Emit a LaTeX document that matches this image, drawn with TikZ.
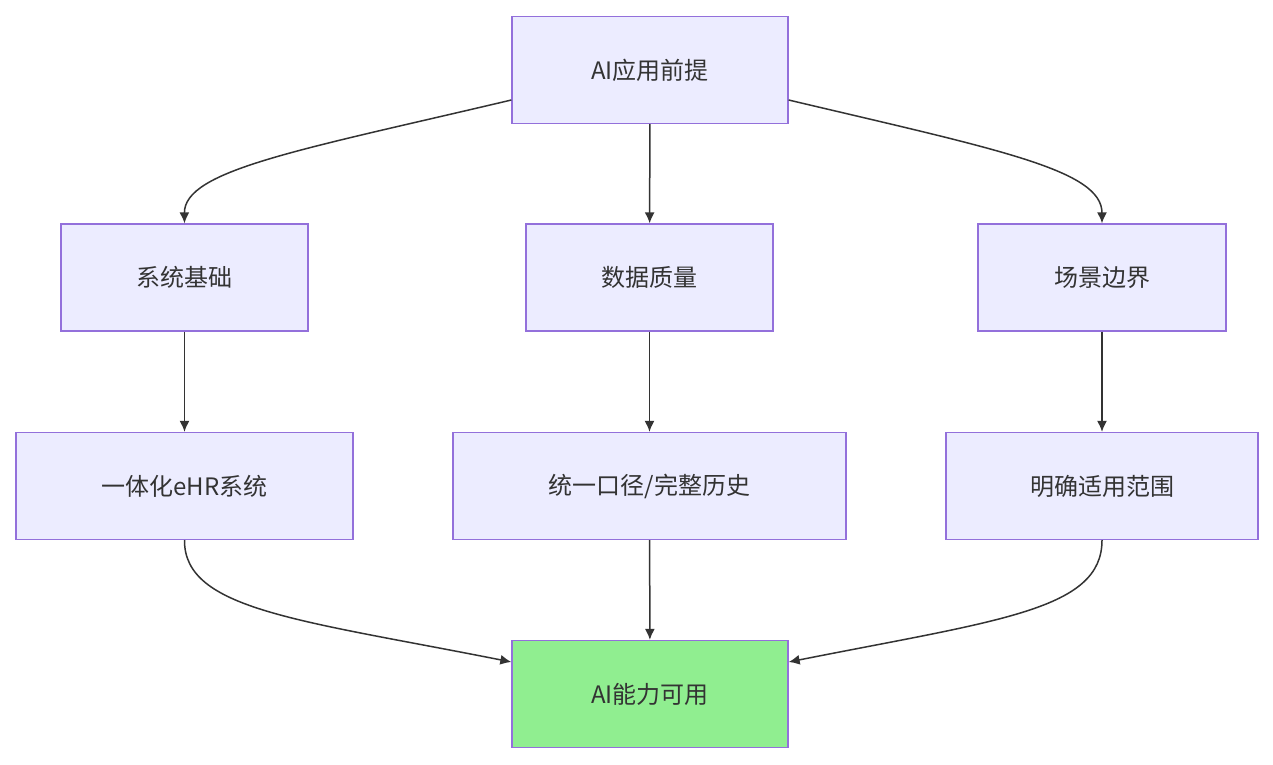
\documentclass[tikz,border=0pt]{standalone}
\usepackage{fontspec}
\setmainfont{Noto Sans CJK SC}
\usetikzlibrary{arrows.meta}
\definecolor{nf}{HTML}{ECECFF}
\definecolor{ns}{HTML}{9370DB}
\definecolor{tx}{HTML}{333333}
\definecolor{gf}{HTML}{90EE90}
\begin{document}
\begin{tikzpicture}[x=1pt,y=-1pt,
  box/.style={draw=ns,fill=nf,line width=1.3pt,text=tx,font=\fontsize{24}{28}\selectfont,minimum height=107pt,inner sep=0pt},
  ar/.style={draw=tx,line width=1.5pt,-{Latex[length=11pt,width=10pt]}}]
\useasboundingbox (0,0) rectangle (1273,764);
\node[box,minimum width=276pt] (top) at (650,70) {AI应用前提};
\node[box,minimum width=247pt] (a1) at (184.5,277.5) {系统基础};
\node[box,minimum width=247pt] (b1) at (649.5,277.5) {数据质量};
\node[box,minimum width=248pt] (c1) at (1102,277.5) {场景边界};
\node[box,minimum width=337pt] (a2) at (184.5,486) {一体化eHR系统};
\node[box,minimum width=393pt] (b2) at (649.5,486) {统一口径/完整历史};
\node[box,minimum width=312pt] (c2) at (1102,486) {明确适用范围};
\node[box,minimum width=276pt,fill=gf] (bot) at (650,694) {AI能力可用};
\draw[ar] (top.west|-0,100) .. controls (300,150) and (184,170) .. (a1.north);
\draw[ar] (top) -- (b1);
\draw[ar] (top.east|-0,100) .. controls (1000,150) and (1102,170) .. (c1.north);
\draw[ar] (a1) -- (a2);
\draw[ar] (b1) -- (b2);
\draw[ar] (c1) -- (c2);
\draw[ar] (a2.south) .. controls (184,610) and (300,620) .. (bot.west|-0,662);
\draw[ar] (b2) -- (bot);
\draw[ar] (c2.south) .. controls (1102,610) and (1000,620) .. (bot.east|-0,662);
\end{tikzpicture}
\end{document}
